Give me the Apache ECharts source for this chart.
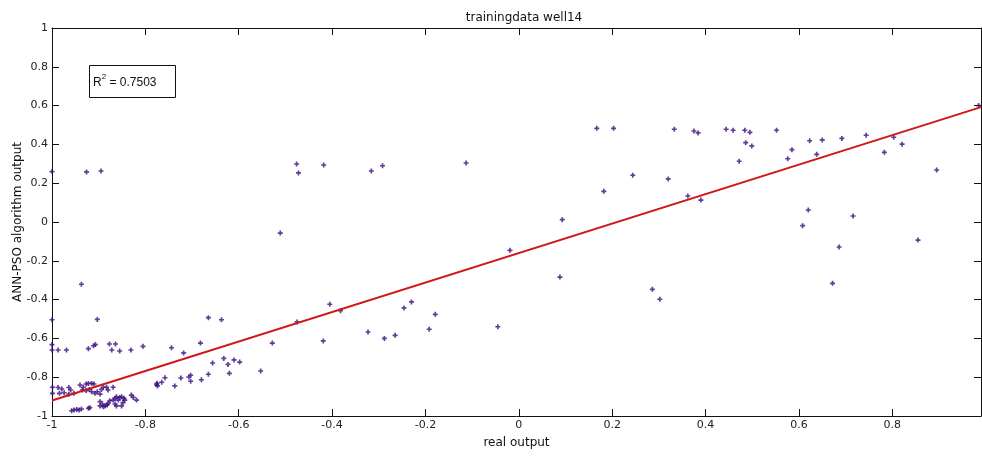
<!DOCTYPE html>
<html>
<head>
<meta charset="utf-8">
<script src="https://cdn.jsdelivr.net/npm/echarts@6/dist/echarts.min.js"></script>
<style>html,body{margin:0;padding:0;background:#fff;}#c{width:982px;height:457px;}</style>
</head>
<body>
<div id="c"></div>
<script>
var titleText = 'trainingdata well14';
var xName = 'real output';
var yName = 'ANN-PSO algorithm output';
var r2Text = '0.7503';
var xMin = -1, xMax = 0.99, yMin = -1, yMax = 1, tickStep = 0.2;

var points = [
  [-1, 0.26], [-0.926, 0.258], [-0.895, 0.263],
  [-0.937, -0.321], [-1, -0.504], [-0.903, -0.502],
  [-0.476, 0.299], [-0.472, 0.253], [-0.418, 0.294], [-0.316, 0.263], [-0.292, 0.290],
  [-0.511, -0.057],
  [-0.665, -0.493], [-0.637, -0.504], [-0.682, -0.624], [-0.528, -0.624], [-0.475, -0.515],
  [-0.405, -0.424], [-0.382, -0.457], [-0.419, -0.613], [-0.323, -0.567], [-0.288, -0.600], [-0.265, -0.584],
  [-0.113, 0.304], [-0.019, -0.146], [-0.246, -0.443], [-0.230, -0.412], [-0.179, -0.476], [-0.192, -0.553], [-0.045, -0.540],
  [0.182, 0.158], [0.093, 0.012], [0.088, -0.284],
  [0.167, 0.483], [0.203, 0.483], [0.333, 0.478], [0.375, 0.469], [0.384, 0.459], [0.444, 0.478], [0.459, 0.473],
  [0.484, 0.473], [0.486, 0.409], [0.472, 0.313], [0.244, 0.241], [0.320, 0.222], [0.362, 0.134], [0.390, 0.113],
  [0.286, -0.347], [0.302, -0.398],
  [0.495, 0.462], [0.499, 0.392], [0.552, 0.473], [0.576, 0.326], [0.585, 0.373], [0.623, 0.419], [0.638, 0.349],
  [0.650, 0.423], [0.692, 0.431], [0.744, 0.447], [0.783, 0.359], [0.803, 0.437], [0.821, 0.401], [0.895, 0.268],
  [0.620, 0.062], [0.608, -0.019], [0.716, 0.031], [0.686, -0.129], [0.855, -0.093], [0.672, -0.316], [0.985, 0.600],
  [-0.553, -0.768], [-0.744, -0.648], [-0.718, -0.675], [-0.632, -0.703], [-0.656, -0.727], [-0.610, -0.711],
  [-0.598, -0.722], [-0.623, -0.734], [-0.620, -0.780], [-0.665, -0.785], [-0.680, -0.813], [-0.703, -0.790],
  [-0.707, -0.799], [-0.703, -0.821], [-0.724, -0.804], [-0.737, -0.845], [-0.758, -0.803], [-0.765, -0.826],
  [-0.775, -0.831], [-0.774, -0.845], [-0.776, -0.838],
  [-1, -0.632], [-1, -0.660], [-0.987, -0.660], [-0.969, -0.660], [-0.922, -0.653], [-0.911, -0.638],
  [-0.907, -0.632], [-0.877, -0.629], [-0.864, -0.629], [-0.872, -0.660], [-0.855, -0.665], [-0.831, -0.660],
  [-0.805, -0.641],
  [-0.999, -0.852], [-0.999, -0.883], [-0.987, -0.853], [-0.979, -0.861], [-0.984, -0.883], [-0.974, -0.880],
  [-0.964, -0.853], [-0.960, -0.866], [-0.964, -0.888], [-0.953, -0.883],
  [-0.940, -0.840], [-0.933, -0.852], [-0.927, -0.835], [-0.922, -0.832], [-0.915, -0.832], [-0.910, -0.835],
  [-0.935, -0.866], [-0.927, -0.869], [-0.920, -0.863], [-0.915, -0.875], [-0.908, -0.883], [-0.903, -0.875],
  [-0.897, -0.887], [-0.894, -0.863], [-0.890, -0.852], [-0.883, -0.852], [-0.880, -0.866], [-0.869, -0.852],
  [-0.958, -0.973], [-0.953, -0.969], [-0.947, -0.966], [-0.942, -0.969], [-0.937, -0.964], [-0.922, -0.960],
  [-0.919, -0.957],
  [-0.897, -0.926], [-0.892, -0.938], [-0.886, -0.948], [-0.882, -0.943], [-0.897, -0.948], [-0.890, -0.952],
  [-0.880, -0.935], [-0.876, -0.921], [-0.869, -0.918], [-0.865, -0.909], [-0.862, -0.901], [-0.858, -0.918],
  [-0.855, -0.904], [-0.851, -0.901], [-0.846, -0.909], [-0.865, -0.938], [-0.862, -0.948], [-0.851, -0.948],
  [-0.848, -0.931], [-0.844, -0.918], [-0.830, -0.892], [-0.826, -0.904], [-0.819, -0.918]
];

var fitLine = [[-1, -0.92], [0.99, 0.592]];

var chart = echarts.init(document.getElementById('c'), null, {renderer: 'canvas'});
var font = 'DejaVu Sans, Liberation Sans, Arial, sans-serif';
var axisLineStyle = {color: '#111', width: 1};
function fmt(v) {
  if (v > 0.9 && v < 1) return '';
  return String(Math.round(v * 10) / 10);
}
var option = {
  backgroundColor: '#fff',
  animation: false,
  title: {
    text: titleText, left: 519, top: 7, textAlign: 'center',
    textStyle: {fontFamily: font, fontSize: 12, fontWeight: 'normal', color: '#111'}
  },
  grid: {left: 52, right: 1, top: 28, bottom: 41, containLabel: false, outerBoundsMode: 'none'},
  xAxis: [{
    type: 'value', min: xMin, max: xMax, interval: tickStep, position: 'bottom',
    name: xName, nameLocation: 'middle', nameGap: 21, nameMoveOverlap: false,
    nameTextStyle: {fontFamily: font, fontSize: 12, color: '#111'},
    axisLine: {show: true, onZero: false, lineStyle: axisLineStyle},
    axisTick: {show: true, inside: true, length: 7, lineStyle: axisLineStyle},
    axisLabel: {fontFamily: font, fontSize: 11, color: '#222', margin: 4, formatter: fmt},
    splitLine: {show: false}
  }, {
    type: 'value', min: xMin, max: xMax, interval: tickStep, position: 'top',
    axisLine: {show: true, onZero: false, lineStyle: axisLineStyle},
    axisTick: {show: true, inside: true, length: 7, lineStyle: axisLineStyle},
    axisLabel: {show: false}, splitLine: {show: false}
  }],
  yAxis: [{
    type: 'value', min: yMin, max: yMax, interval: tickStep, position: 'left',
    name: yName, nameLocation: 'middle', nameGap: 28, nameRotate: 90, nameMoveOverlap: false,
    nameTextStyle: {fontFamily: font, fontSize: 12, color: '#111'},
    axisLine: {show: true, onZero: false, lineStyle: axisLineStyle},
    axisTick: {show: true, inside: true, length: 7, lineStyle: axisLineStyle},
    axisLabel: {fontFamily: font, fontSize: 11, color: '#222', margin: 4, formatter: fmt},
    splitLine: {show: false}
  }, {
    type: 'value', min: yMin, max: yMax, interval: tickStep, position: 'right',
    axisLine: {show: true, onZero: false, lineStyle: axisLineStyle},
    axisTick: {show: true, inside: true, length: 7, lineStyle: axisLineStyle},
    axisLabel: {show: false}, splitLine: {show: false}
  }],
  series: [{
    type: 'scatter', data: points, xAxisIndex: 0, yAxisIndex: 0,
    symbol: 'path://M2,0 L4,0 L4,2 L6,2 L6,4 L4,4 L4,6 L2,6 L2,4 L0,4 L0,2 L2,2 Z',
    symbolSize: 5, itemStyle: {color: '#380c7e'}, z: 2
  }, {
    type: 'line', data: fitLine, xAxisIndex: 0, yAxisIndex: 0,
    showSymbol: false, symbol: 'none', lineStyle: {color: '#d01818', width: 2}, z: 3
  }],
  graphic: [{
    type: 'rect', left: 89, top: 65, z: 10,
    shape: {width: 86, height: 32},
    style: {fill: '#fff', stroke: '#111', lineWidth: 1}
  }, {
    type: 'text', left: 93, top: 73, z: 11,
    style: {
      text: '{r|R}{s|2}{r| = ' + r2Text + '}',
      rich: {
        r: {fontFamily: 'Liberation Sans, Arial, sans-serif', fontSize: 12, fill: '#111', verticalAlign: 'bottom', lineHeight: 16},
        s: {fontFamily: 'Liberation Sans, Arial, sans-serif', fontSize: 8, fill: '#111', verticalAlign: 'top', lineHeight: 16, padding: [0, 0, 6, 0]}
      }
    }
  }]
};
chart.setOption(option);
</script>
</body>
</html>
